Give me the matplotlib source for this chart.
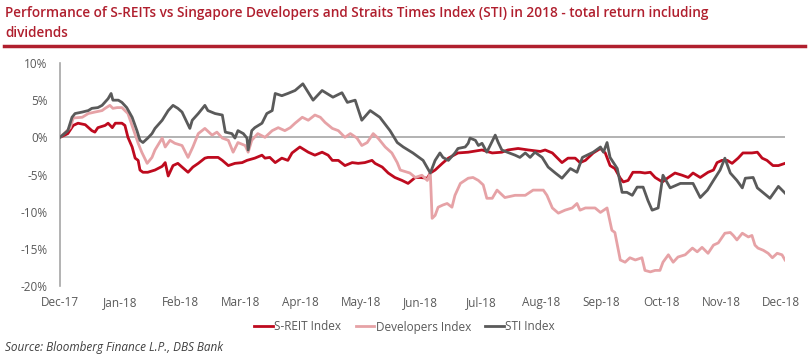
import matplotlib
matplotlib.use("Agg")
import matplotlib.pyplot as plt
from matplotlib.lines import Line2D

# x positions are in months since Dec-17 (0 = Dec-17, 12 = Dec-18)
month_labels = ["Dec-17", "Jan-18", "Feb-18", "Mar-18", "Apr-18", "May-18", "Jun-18",
                "Jul-18", "Aug-18", "Sep-18", "Oct-18", "Nov-18", "Dec-18"]

# S-REIT Index, total return %
sreit_t = [0, .13, .22, .3, .42, .53, .58, .63, .75, .8,
           .87, .92, 1.03, 1.08, 1.13, 1.2, 1.25, 1.3, 1.33, 1.38,
           1.46, 1.58, 1.7, 1.75, 1.8, 1.88, 1.96, 2.03, 2.13, 2.21,
           2.3, 2.41, 2.46, 2.63, 2.7, 2.8, 2.91, 3.03, 3.11, 3.24,
           3.36, 3.41, 3.49, 3.58, 3.69, 3.79, 3.86, 3.99, 4.13, 4.24,
           4.36, 4.46, 4.53, 4.63, 4.74, 4.86, 4.96, 5.07, 5.19, 5.24,
           5.36, 5.46, 5.57, 5.69, 5.79, 5.91, 5.99, 6.11, 6.16, 6.24,
           6.36, 6.46, 6.62, 6.79, 7.02, 7.19, 7.35, 7.45, 7.62, 7.79,
           7.99, 8.07, 8.19, 8.35, 8.45, 8.57, 8.65, 8.74, 8.87, 8.99,
           9.07, 9.15, 9.23, 9.32, 9.37, 9.45, 9.53, 9.65, 9.73, 9.82,
           9.9, 10.02, 10.12, 10.23, 10.35, 10.45, 10.53, 10.65, 10.78, 10.87,
           10.93, 11.01, 11.1, 11.18, 11.28, 11.36, 11.51, 11.6, 11.68, 11.76,
           11.86, 11.95, 12.06]
sreit = [0, 0.5, 1.6, 1.9, 1.7, 0.9, 0.7, 1.3, 1.6, 1.9,
         1.3, 1.9, 1.9, 1.6, 0, -1.3, -2.8, -3.1, -4.4, -4.7,
         -4.7, -4.4, -3.9, -3.4, -5.2, -3.8, -3.5, -4.0, -4.7, -4.0,
         -3.5, -2.8, -2.7, -2.7, -3.1, -3.8, -3.5, -3.4, -3.1, -2.8,
         -2.4, -2.8, -2.7, -3.4, -2.8, -3.1, -2.1, -1.3, -2.0, -2.4,
         -2.0, -2.4, -3.1, -3.1, -3.8, -3.4, -3.5, -3.4, -3.1, -3.5,
         -4.0, -4.8, -5.4, -5.8, -6.2, -5.4, -5.4, -5.5, -4.8, -4.4,
         -3.5, -2.8, -2.1, -2.0, -1.7, -2.1, -2.0, -1.7, -1.5, -1.7,
         -1.9, -1.7, -2.1, -3.4, -2.8, -2.8, -3.4, -3.1, -2.1, -1.5,
         -2.1, -3.8, -4.2, -5.5, -6.0, -5.8, -4.7, -4.7, -4.8, -4.7,
         -5.4, -6.0, -5.4, -4.8, -5.1, -5.4, -4.8, -5.4, -4.7, -4.4,
         -3.4, -3.1, -3.1, -3.5, -2.8, -2.1, -2.1, -2.0, -2.8, -3.1,
         -3.8, -3.8, -3.5]

# Developers Index
dev_t = [0, .17, .22, .37, .47, .58, .7, .75, .83, .88,
         .95, 1.03, 1.13, 1.21, 1.3, 1.36, 1.45, 1.53, 1.58, 1.7,
         1.75, 1.83, 1.91, 2.03, 2.13, 2.21, 2.3, 2.41, 2.53, 2.61,
         2.7, 2.8, 2.88, 2.96, 3.08, 3.13, 3.19, 3.29, 3.41, 3.53,
         3.63, 3.74, 3.83, 3.91, 4.03, 4.13, 4.24, 4.33, 4.41, 4.53,
         4.63, 4.74, 4.83, 4.94, 5.02, 5.11, 5.21, 5.29, 5.41, 5.52,
         5.61, 5.66, 5.82, 5.91, 6.02, 6.11, 6.16, 6.19, 6.24, 6.29,
         6.37, 6.44, 6.52, 6.57, 6.66, 6.79, 6.87, 6.96, 7.04, 7.1,
         7.19, 7.27, 7.4, 7.57, 7.74, 7.87, 8.04, 8.1, 8.19, 8.29,
         8.4, 8.52, 8.6, 8.65, 8.74, 8.9, 8.99, 9.1, 9.18, 9.23,
         9.32, 9.4, 9.48, 9.57, 9.68, 9.73, 9.82, 9.9, 9.98, 10.03,
         10.12, 10.2, 10.28, 10.4, 10.52, 10.6, 10.68, 10.78, 10.87, 10.95,
         11.06, 11.15, 11.2, 11.26, 11.35, 11.45, 11.51, 11.56, 11.61, 11.7,
         11.78, 11.85, 11.93, 12.01, 12.06]
dev = [0, 1.3, 2.6, 2.7, 3.2, 3.4, 3.6, 3.9, 4.3, 3.9,
       4.0, 4.0, 3.2, 1.3, -0.8, -2.0, -3.5, -2.7, -1.7, -0.1,
       -1.3, -0.4, -0.8, -1.1, -2.7, -1.3, 0.5, 1.2, 0.3, 0.7,
       -0.1, -0.4, -2.0, -0.7, -1.1, -2.0, -0.4, 0.5, 0, 0.9,
       1.3, 0.9, 1.3, 1.9, 2.7, 2.3, 3.0, 2.7, 2.0, 1.2,
       0.9, 0, 0.5, -0.1, -1.1, -0.7, 0.5, -0.1, -1.3, -2.1,
       -3.4, -4.4, -4.8, -5.4, -5.1, -5.8, -4.8, -10.9, -10.5, -9.4,
       -9.1, -8.9, -9.4, -7.8, -6.2, -5.5, -5.4, -5.8, -6.4, -8.2,
       -8.2, -7.1, -8.1, -7.8, -7.8, -7.1, -7.1, -7.8, -9.5, -10.2,
       -9.8, -9.5, -8.9, -9.8, -9.5, -9.5, -10.1, -9.5, -12.5, -12.8,
       -16.5, -16.8, -16.2, -16.5, -16.2, -17.9, -18.1, -17.9, -17.9, -16.8,
       -15.8, -16.8, -16.1, -15.8, -14.9, -15.4, -14.8, -15.6, -14.5, -14.2,
       -12.9, -12.8, -13.2, -13.8, -12.9, -13.4, -13.2, -14.5, -14.9, -15.2,
       -15.6, -16.2, -15.6, -15.8, -16.5]

# STI Index
sti_t = [0, .13, .2, .25, .37, .47, .53, .63, .7, .8,
         .85, .88, .97, 1.03, 1.11, 1.2, 1.28, 1.33, 1.38, 1.46,
         1.53, 1.58, 1.7, 1.8, 1.88, 1.96, 2.03, 2.16, 2.2, 2.3,
         2.41, 2.46, 2.58, 2.7, 2.75, 2.86, 2.91, 2.96, 3.05, 3.11,
         3.13, 3.19, 3.24, 3.36, 3.44, 3.53, 3.58, 3.69, 3.79, 3.91,
         4.04, 4.21, 4.36, 4.54, 4.69, 4.78, 4.91, 5.02, 5.16, 5.32,
         5.49, 5.61, 5.71, 5.87, 6.04, 6.16, 6.24, 6.32, 6.37, 6.46,
         6.57, 6.62, 6.74, 6.79, 6.82, 6.91, 6.96, 7.02, 7.1, 7.24,
         7.29, 7.35, 7.44, 7.57, 7.65, 7.74, 7.82, 7.9, 8.02, 8.12,
         8.24, 8.35, 8.49, 8.6, 8.69, 8.87, 8.99, 9.04, 9.1, 9.15,
         9.27, 9.35, 9.43, 9.52, 9.6, 9.7, 9.78, 9.85, 9.95, 10.03,
         10.15, 10.32, 10.53, 10.65, 10.77, 10.87, 10.98, 11.06, 11.15, 11.26,
         11.35, 11.4, 11.53, 11.6, 11.81, 11.95, 12.06]
sti = [0, 0.9, 2.7, 3.2, 3.4, 3.6, 3.9, 4.0, 4.3, 5.2,
       5.9, 5.0, 5.0, 4.7, 4.0, 2.7, 0.9, -0.4, -0.7, -0.1,
       0.5, 1.2, 2.3, 3.6, 4.3, 3.9, 3.4, 1.2, 2.3, 3.2,
       4.3, 3.6, 3.2, 3.0, 0.7, 0.5, -0.1, 0.9, 0.5, -0.1,
       -1.7, 0.9, 1.3, 1.9, 3.2, 3.6, 5.9, 5.6, 5.9, 6.3,
       7.2, 5.0, 6.3, 5.4, 6.0, 4.7, 5.0, 2.3, 3.6, 2.7,
       0.9, -0.7, -1.3, -2.1, -3.1, -4.8, -3.1, -2.1, -2.7, -3.1,
       -2.1, -1.5, -1.3, -0.8, -0.1, -0.4, -1.1, -0.8, -2.0, 0.3,
       -0.7, -1.7, -2.0, -2.4, -2.7, -2.1, -2.7, -2.0, -2.7, -4.0,
       -4.8, -5.5, -4.2, -4.7, -2.7, -2.0, -1.3, -2.0, -0.7, -2.7,
       -4.2, -7.4, -7.4, -7.8, -6.7, -6.7, -8.5, -9.8, -9.5, -5.1,
       -6.8, -6.2, -6.2, -8.1, -7.1, -5.8, -4.4, -2.8, -4.8, -5.8,
       -6.8, -5.5, -5.4, -6.8, -8.2, -6.6, -7.5]

y_ticks = [10, 5, 0, -5, -10, -15, -20]

red = "#BE0A1E"
pink = "#E6A2A6"
grey = "#5A5A5A"
txt = "#595959"

plt.rcParams["font.family"] = ["Open Sans", "DejaVu Sans"]

fig = plt.figure(figsize=(8.09, 3.61), dpi=100)
ax = fig.add_axes([60 / 809, 1 - 286 / 361, 725 / 809, 223 / 361])

ax.axhline(0, color="#a6a6a6", lw=1.2, zorder=1)
ax.plot(sreit_t, sreit, color=red, lw=2.0, zorder=3)
ax.plot(dev_t, dev, color=pink, lw=2.0, zorder=3)
ax.plot(sti_t, sti, color=grey, lw=2.0, zorder=4)

ax.set_xlim(0, 12.06)
ax.set_ylim(-20, 10)
ax.set_yticks(y_ticks)
ax.set_yticklabels([f"{v}%" for v in y_ticks])
ax.set_xticks(range(len(month_labels)))
ax.set_xticklabels(month_labels)
ax.tick_params(axis="both", length=0, labelsize=8.5, colors=txt)
ax.tick_params(axis="y", pad=9)
ax.tick_params(axis="x", pad=7)
for s in ["top", "right", "bottom"]:
    ax.spines[s].set_visible(False)
ax.spines["left"].set_color("#a6a6a6")
ax.spines["left"].set_linewidth(1.2)

# title and red rule
fig.text(5 / 809, 1 - 13 / 361,
         "Performance of S-REITs vs Singapore Developers and Straits Times Index (STI) in 2018 - total return including",
         color="#B01F2E", fontsize=9.8, fontweight="semibold", va="center", ha="left")
fig.text(5 / 809, 1 - 33 / 361, "dividends",
         color="#B01F2E", fontsize=9.8, fontweight="semibold", va="center", ha="left")
fig.add_artist(Line2D([4 / 809, 805 / 809], [1 - 46 / 361, 1 - 46 / 361],
                      color="#B01F2E", lw=2.5, transform=fig.transFigure))

handles = [Line2D([], [], color=red, lw=2.0),
           Line2D([], [], color=pink, lw=2.0),
           Line2D([], [], color=grey, lw=2.0)]
fig.legend(handles, ["S-REIT Index", "Developers Index", "STI Index"],
           loc="center", bbox_to_anchor=(0.5, 1 - 327 / 361), ncol=3,
           frameon=False, fontsize=8.5, handlelength=1.6, handletextpad=0.1,
           columnspacing=1.2, labelcolor=txt)

fig.text(5 / 809, 1 - 347 / 361, "Source: Bloomberg Finance L.P., DBS Bank",
         fontsize=8.5, style="italic", color="#404040", va="center", ha="left")

fig.savefig("out.png", dpi=100)
